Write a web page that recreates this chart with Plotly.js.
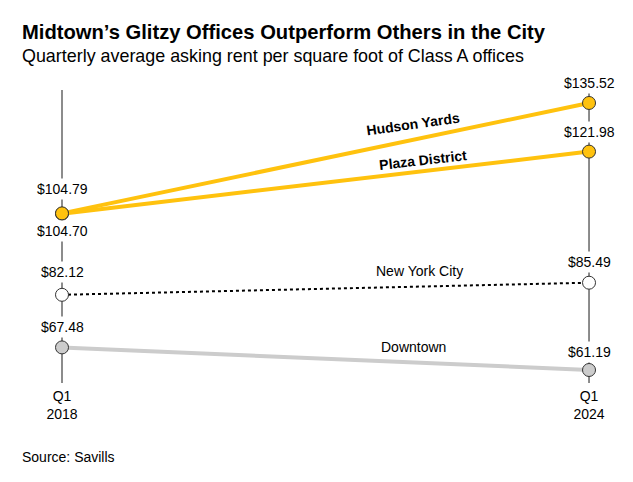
<!DOCTYPE html>
<html>
<head>
<meta charset="utf-8">
<script src="https://cdn.plot.ly/plotly-3.0.1.min.js"></script>
<style>html,body{margin:0;padding:0;background:#fff;}#chart{width:633px;height:482px;}</style>
</head>
<body>
<div id="chart"></div>
<script>
// ---- data ----
const periods = ["Q1 2018", "Q1 2024"];
const tickLabels = ["Q1<br>2018", "Q1<br>2024"];
const seriesNames = ["Downtown", "New York City", "Plaza District", "Hudson Yards"];
const downtown = [67.48, 61.19];
const newYorkCity = [82.12, 85.49];
const plazaDistrict = [104.70, 121.98];
const hudsonYards = [104.79, 135.52];
const axisSpan = [57.57, 139.13];

// ---- styles ----
const FONT = "Liberation Sans, Arial, Helvetica, sans-serif";
const YELLOW = "#ffc20e";
const xs = [0, 1];

const series = [
  {name: seriesNames[0], y: downtown, line: {color: "#cccccc", width: 4}, fill: "#cccccc"},
  {name: seriesNames[1], y: newYorkCity, line: {color: "#000000", width: 2, dash: "dot"}, fill: "#ffffff"},
  {name: seriesNames[2], y: plazaDistrict, line: {color: YELLOW, width: 4}, fill: YELLOW},
  {name: seriesNames[3], y: hudsonYards, line: {color: YELLOW, width: 4}, fill: YELLOW}
];

const traces = [];
// vertical guide lines
xs.forEach(x => traces.push({
  x: [x, x], y: axisSpan, mode: "lines", type: "scatter",
  line: {color: "#666666", width: 1.5}, hoverinfo: "skip", showlegend: false, cliponaxis: false
}));
series.forEach(s => traces.push({
  x: xs, y: s.y, mode: "lines", type: "scatter", line: s.line,
  hoverinfo: "skip", showlegend: false, cliponaxis: false
}));
series.forEach(s => traces.push({
  x: xs, y: s.y, mode: "markers", type: "scatter",
  marker: {size: 13, color: s.fill, line: {color: "#333333", width: 1}},
  hoverinfo: "skip", showlegend: false, cliponaxis: false
}));

const fmt = v => "$" + v.toFixed(2);
// value labels: [series values, index, pixel shift]
const valueLabels = [
  [hudsonYards, 0, 24], [plazaDistrict, 0, -17],
  [newYorkCity, 0, 23], [downtown, 0, 20],
  [hudsonYards, 1, 20], [plazaDistrict, 1, 20],
  [newYorkCity, 1, 21], [downtown, 1, 18]
];
const annotations = valueLabels.map(([arr, i, sh]) => ({
  x: xs[i], y: arr[i], xref: "x", yref: "y", text: fmt(arr[i]), showarrow: false,
  yshift: sh, font: {family: FONT, size: 14, color: "#000"}, bgcolor: "#ffffff", borderpad: 2
}));

// series name labels placed along lines
const nameLabels = [
  {text: "<b>" + seriesNames[3] + "</b>", x: 0.666, y: 129.67, angle: -8},
  {text: "<b>" + seriesNames[2] + "</b>", x: 0.685, y: 119.65, angle: -6.5},
  {text: seriesNames[1], x: 0.679, y: 88.75, angle: 0},
  {text: seriesNames[0], x: 0.666, y: 67.59, angle: 0}
];
nameLabels.forEach(n => annotations.push({
  x: n.x, y: n.y, xref: "x", yref: "y", text: n.text, showarrow: false, textangle: n.angle,
  font: {family: FONT, size: 14, color: "#000"}
}));

annotations.push({
  xref: "paper", yref: "paper", x: 0, y: 1.116, xanchor: "left", yanchor: "middle",
  text: "Quarterly average asking rent per square foot of Class A offices", showarrow: false,
  font: {family: FONT, size: 17.9, color: "#000"}
});
annotations.push({
  xref: "paper", yref: "paper", x: 0, y: -0.2526, xanchor: "left", yanchor: "middle",
  text: "Source: Savills", showarrow: false, font: {family: FONT, size: 14, color: "#000"}
});

const layout = {
  width: 633, height: 482,
  margin: {l: 20, r: 20, t: 90, b: 99, pad: 0},
  paper_bgcolor: "#ffffff", plot_bgcolor: "#ffffff",
  title: {
    text: "<b>Midtown’s Glitzy Offices Outperform Others in the City</b>",
    xref: "container", yref: "container", x: 22 / 633, y: 1 - 32 / 482,
    xanchor: "left", yanchor: "middle",
    font: {family: FONT, size: 20.2, color: "#000"}
  },
  xaxis: {
    range: [-0.0797, 1.0455], showgrid: false, zeroline: false, showline: false,
    tickvals: xs, ticktext: tickLabels, ticks: "", fixedrange: true, ticklabelstandoff: 3,
    tickfont: {family: FONT, size: 14, color: "#000"}
  },
  yaxis: {
    range: axisSpan, showgrid: false, zeroline: false, showline: false,
    showticklabels: false, ticks: "", fixedrange: true
  },
  annotations: annotations,
  showlegend: false,
  hovermode: false
};

Plotly.newPlot("chart", traces, layout, {staticPlot: true, displayModeBar: false});
</script>
</body>
</html>
